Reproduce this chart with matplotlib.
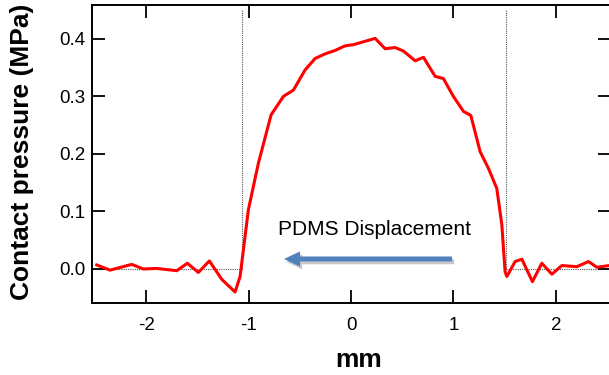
import matplotlib
matplotlib.use("Agg")
import matplotlib.pyplot as plt
import matplotlib.patheffects as pe

plt.rcParams["font.family"] = ["Liberation Sans", "DejaVu Sans"]

# Measured contact pressure profile (position in mm, pressure in MPa)
position_mm = [
    -2.486, -2.356, -2.144, -2.030, -1.899, -1.704, -1.600, -1.493, -1.385,
    -1.264, -1.134, -1.085, -1.004, -0.906, -0.782, -0.662, -0.564, -0.450,
    -0.352, -0.254, -0.156, -0.059, 0.022, 0.120, 0.235, 0.332, 0.430,
    0.511, 0.626, 0.707, 0.821, 0.902, 1.000, 1.098, 1.170, 1.261, 1.342,
    1.424, 1.473, 1.505, 1.522, 1.603, 1.669, 1.772, 1.864, 1.962, 2.060,
    2.206, 2.320, 2.402, 2.483, 2.56,
]
pressure_mpa = [
    0.007, -0.002, 0.008, 0.000, 0.001, -0.003, 0.010, -0.006, 0.014,
    -0.018, -0.040, -0.013, 0.103, 0.184, 0.268, 0.300, 0.311, 0.346,
    0.366, 0.374, 0.380, 0.388, 0.390, 0.395, 0.401, 0.383, 0.385,
    0.379, 0.362, 0.368, 0.335, 0.331, 0.300, 0.274, 0.267, 0.204, 0.175,
    0.140, 0.077, -0.005, -0.013, 0.013, 0.017, -0.022, 0.010, -0.009, 0.006,
    0.004, 0.013, 0.003, 0.005, 0.007,
]

# Nominal contact zone edges (mm) and the height of the guide lines
contact_edges = [-1.066, 1.515]
guide_top = 0.45

x_ticks = [-2, -1, 0, 1, 2]
y_ticks = [0.0, 0.1, 0.2, 0.3, 0.4]
x_limits = (-2.535, 2.54)
y_limits = (-0.0586, 0.459)

fig = plt.figure(figsize=(6.09, 3.75), dpi=100)
ax = fig.add_axes([0.1506, 0.1928, 1.0033 - 0.1506, 0.9867 - 0.1928])

# Dotted guide lines marking the nominal contact zone
guide_kw = dict(color="#555555", linestyle=(0, (1, 1)), linewidth=0.8, zorder=1)
ax.plot([x_limits[0], contact_edges[0]], [0, 0], **guide_kw)
ax.plot([contact_edges[1], x_limits[1]], [0, 0], **guide_kw)
for edge in contact_edges:
    ax.plot([edge, edge], [0, guide_top], **guide_kw)

ax.plot(position_mm, pressure_mpa, color="#ff0000", linewidth=2.2, zorder=3)

# Displacement direction arrow with a soft drop shadow
ax.annotate(
    "", xy=(-0.655, 0.0174), xytext=(0.987, 0.0174),
    arrowprops=dict(
        arrowstyle="simple,head_length=1.15,head_width=1.1,tail_width=0.36",
        fc="#4f81bd", ec="none", mutation_scale=10, shrinkA=0, shrinkB=0,
        path_effects=[
            pe.SimplePatchShadow(offset=(1.5, -2.0), shadow_rgbFace="#888888", alpha=0.45),
            pe.Normal(),
        ],
    ),
)
ax.text(0.225, 0.059, "PDMS Displacement", ha="center", va="baseline", fontsize=15)

ax.set_xlim(*x_limits)
ax.set_ylim(*y_limits)
ax.set_xticks(x_ticks)
ax.set_yticks(y_ticks)
ax.set_xticklabels([str(t) for t in x_ticks])
ax.set_yticklabels([f"{t:.1f}" for t in y_ticks])

ax.tick_params(axis="both", which="major", direction="in", length=9.4, width=1.3,
               top=True, right=True, labelsize=13.5, colors="black")
ax.tick_params(axis="x", pad=10.5)
ax.tick_params(axis="y", pad=4.3)
for spine in ax.spines.values():
    spine.set_linewidth(1.4)

ax.set_ylabel("Contact pressure (MPa)", fontsize=19, fontweight="bold", va="center")
ax.yaxis.set_label_coords(-0.135, 0.506)
ax.set_xlabel("mm", fontsize=19, fontweight="bold", va="baseline")
ax.xaxis.set_label_coords(0.514, -0.216)

fig.savefig("out.png", dpi=100)
